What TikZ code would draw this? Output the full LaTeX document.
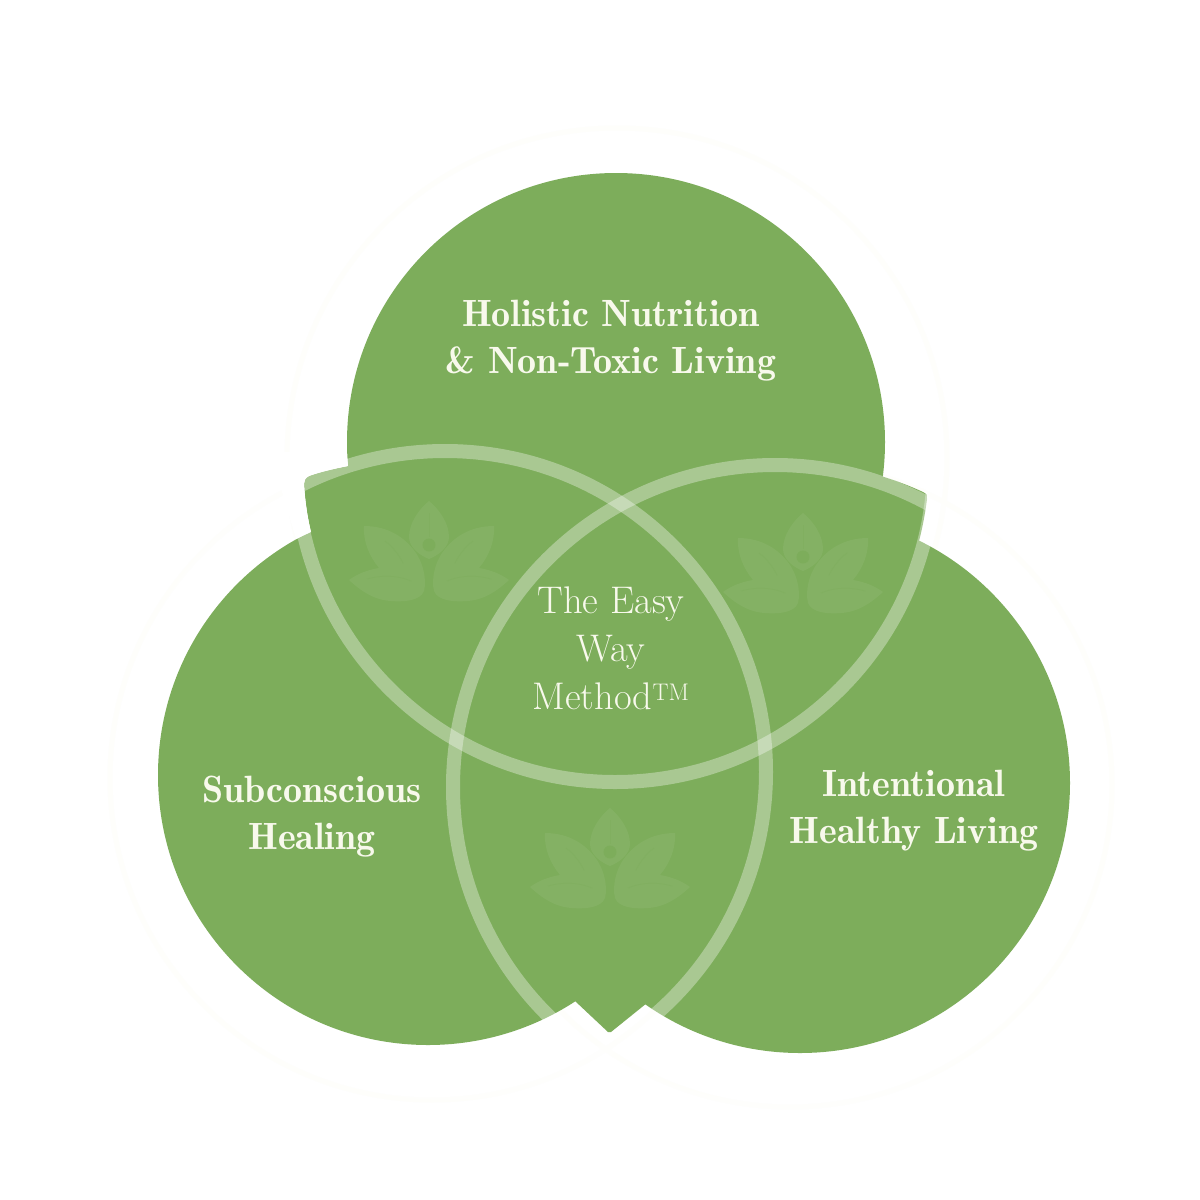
\documentclass[tikz,border=0pt]{standalone}
\definecolor{leafgreen}{HTML}{7DAD5B}
\definecolor{cream}{HTML}{F8F9EC}
\definecolor{faint}{HTML}{FEFEFB}
\tikzset{
  x=1pt,y=-1pt,
  lobe/.style={fill=leafgreen,draw=none},
  band/.style={draw=white,opacity=.34,line width=14pt,fill=none},
  halo/.style={draw=faint,line width=5pt,fill=none},
  boldlabel/.style={text=cream,align=center,font=\fontsize{38}{47}\fontseries{b}\selectfont},
  centerlabel/.style={text=cream,align=center,font=\fontsize{38.5}{48}\selectfont},
  emblemleaf/.style={fill=white,fill opacity=.055,draw=none},
  vein/.style={draw=leafgreen,line width=.7pt,opacity=.4}
}
\newcommand{\lotusmark}[2]{%
  \begin{scope}[shift={(#1,#2)}]
    \foreach \s in {1,-1}{
      \begin{scope}[xscale=\s]
        \fill[emblemleaf]
          (-65,25) .. controls (-45,25) and (-28,33) .. (-16,48)
          .. controls (-6,60) and (-2,78) .. (-5,90)
          .. controls (-9,100) and (-25,101) .. (-38,100)
          .. controls (-55,99) and (-68,90) .. (-80,79)
          .. controls (-72,73) and (-62,69) .. (-50,67)
          .. controls (-60,55) and (-66,40) .. (-65,25) -- cycle;
        \draw[vein] (-62,78) .. controls (-48,74) and (-32,74) .. (-18,80);
        \draw[vein] (-44,40) .. controls (-36,46) and (-30,54) .. (-26,62);
      \end{scope}
    }
    \fill[emblemleaf]
      (0,0) .. controls (-10,8) and (-20,22) .. (-20,36)
      .. controls (-20,46) and (-10,54) .. (0,58)
      .. controls (10,54) and (20,46) .. (20,36)
      .. controls (20,22) and (10,8) .. (0,0) -- cycle;
    \fill[leafgreen] (0,44) circle (6.5);
    \draw[vein] (0,12) -- (0,36);
  \end{scope}}
\begin{document}
\begin{tikzpicture}
  \useasboundingbox (0,0) rectangle (1200,1200);
  \fill[white] (0,0) rectangle (1200,1200);
  % faint outer halos
  \draw[halo] (617,458) circle (330);
  \draw[halo] (432,778) circle (322);
  \draw[halo] (790,785) circle (322);
  % three main discs
  \fill[lobe] (616,442) circle (269);
  \fill[lobe] (428,775) circle (270);
  \fill[lobe] (800,783) circle (270);
  % petal tips that stick out of the discs
  \fill[lobe] (360,480) -- (348,466) .. controls (333,469) and (320,472) .. (309,476)
     .. controls (305,478) and (304,481) .. (304,484)
     .. controls (305,500) and (307,515) .. (311,532) -- (360,560) -- cycle;
  \fill[lobe] (870,470) -- (884,477) .. controls (897,481) and (910,486) .. (923,492)
     .. controls (927,494) and (928,496) .. (927,499)
     .. controls (925,515) and (922,530) .. (918,545) -- (860,560) -- cycle;
  \fill[lobe] (555,950) -- (555,985) -- (575,1001) -- (608,1032) -- (611,1032) -- (647,1003) -- (665,985) -- (665,950) -- cycle;
  % leaf emblems
  \lotusmark{429}{501}
  \lotusmark{803}{513}
  \lotusmark{610}{808}
  % translucent rings
  \draw[band] (615,463) circle (319);
  \draw[band] (445,772) circle (321);
  \draw[band] (775,787) circle (322);
  % the rings fade out beyond the upper left tip
  \fill[white] (346.5,452) -- (348,466) .. controls (333,469) and (320,472) .. (309,476)
     .. controls (305,478) and (304,481) .. (304,484)
     .. controls (305,500) and (307,515) .. (311,532) -- (296,539) -- (270,452) -- cycle;
  % labels
  \node[boldlabel] (nutrition) at (611,341) {Holistic Nutrition\\\& Non-Toxic Living};
  \node[boldlabel] (healing) at (312,817) {Subconscious\\Healing};
  \node[boldlabel] (living) at (914,811) {Intentional\\Healthy Living};
  \node[centerlabel] (method) at (611,648) {The Easy\\Way\\Method\textsuperscript{\fontsize{24}{24}\selectfont TM}};
\end{tikzpicture}
\end{document}
